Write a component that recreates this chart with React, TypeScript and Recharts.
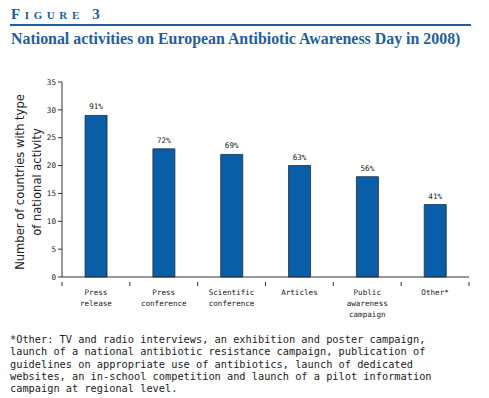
import React from "react"
import { Bar, BarChart, LabelList, XAxis, YAxis } from "recharts"

const categories = ["Press release", "Press conference", "Scientific conference", "Articles", "Public awareness campaign", "Other*"]
const tickLines = [["Press", "release"], ["Press", "conference"], ["Scientific", "conference"], ["Articles"], ["Public", "awareness", "campaign"], ["Other*"]]
const countries = [29, 23, 22, 20, 18, 13]
const shares = ["91%", "72%", "69%", "63%", "56%", "41%"]
const yTicks = [0, 5, 10, 15, 20, 25, 30, 35]

const footnote = [
  "*Other: TV and radio interviews, an exhibition and poster campaign,",
  "launch of a national antibiotic resistance campaign, publication of",
  "guidelines on appropriate use of antibiotics, launch of dedicated",
  "websites, an in-school competition and launch of a pilot information",
  "campaign at regional level.",
]

const data = categories.map((name, i) => ({ name, value: countries[i], share: shares[i] }))

const BLUE = "#1d5f9f"
const MONO = "'DejaVu Sans Mono', monospace"
const W = 489
const H = 330
const margin = { top: 82, right: 20, left: 32, bottom: 13 }
const plotW = W - margin.left - margin.right - 30
const band = plotW / categories.length

function CategoryTick(props: any) {
  const { x, y, index } = props
  const lines = tickLines[index] || []
  const left = x - band / 2
  return (
    <g>
      <line x1={left} x2={left} y1={y - 3} y2={y + 1} stroke="#333" strokeWidth={1} />
      {index === categories.length - 1 && (
        <line x1={x + band / 2} x2={x + band / 2} y1={y - 3} y2={y + 1} stroke="#333" strokeWidth={1} />
      )}
      <text x={x} y={y + 10} textAnchor="middle" fontSize={7.6} fontFamily={MONO} fill="#222">
        {lines.map((l, i) => (
          <tspan key={i} x={x} dy={i === 0 ? 0 : 11}>
            {l}
          </tspan>
        ))}
      </text>
    </g>
  )
}

function AxisTitle() {
  const font = { fontSize: 12.8, fontFamily: "'DejaVu Sans Condensed', sans-serif", fill: "#222" }
  return (
    <g>
      <text transform="translate(24,182) rotate(-90)" textAnchor="middle" {...font}>
        Number of countries with type
      </text>
      <text transform="translate(41,182) rotate(-90)" textAnchor="middle" {...font}>
        of national activity
      </text>
    </g>
  )
}

export default function App() {
  return (
    <div style={{ position: "absolute", left: 0, top: 0, width: W, height: 398, background: "#fff" }}>
      <div
        style={{
          position: "absolute",
          left: 11,
          top: 6,
          fontFamily: "'Liberation Serif', serif",
          fontVariant: "small-caps",
          fontWeight: "bold",
          fontSize: 15,
          letterSpacing: 4.6,
          color: BLUE,
        }}
      >
        Figure 3
      </div>
      <div style={{ position: "absolute", left: 10, top: 24, width: 461, height: 2, background: BLUE }} />
      <div
        style={{
          position: "absolute",
          left: 11,
          top: 30,
          fontFamily: "'Liberation Serif', serif",
          fontWeight: "bold",
          fontSize: 15.9,
          color: BLUE,
          whiteSpace: "nowrap",
        }}
      >
        National activities on European Antibiotic Awareness Day in 2008)
      </div>

      <div style={{ position: "absolute", left: 0, top: 0 }}>
        <BarChart width={W} height={H} data={data} margin={margin} barCategoryGap="34%">
          <XAxis
            dataKey="name"
            interval={0}
            height={40}
            tickLine={false}
            axisLine={{ stroke: "#333" }}
            tick={<CategoryTick />}
          />
          <YAxis
            domain={[0, 35]}
            ticks={yTicks}
            width={30}
            tickSize={4}
            tickLine={{ stroke: "#333" }}
            axisLine={{ stroke: "#333" }}
            tick={{ fontSize: 7.6, fontFamily: MONO, fill: "#222" }}
            label={{ content: () => <AxisTitle /> }}
          />
          <Bar dataKey="value" fill="#0a5ea8" stroke="#1b2c3c" strokeWidth={0.8} isAnimationActive={false}>
            <LabelList dataKey="share" position="top" offset={6} fontSize={7.6} fontFamily={MONO} fill="#222" />
          </Bar>
        </BarChart>
      </div>

      <div
        style={{
          position: "absolute",
          left: 10,
          top: 333,
          fontFamily: MONO,
          fontSize: 10.3,
          lineHeight: "12.3px",
          color: "#222",
          whiteSpace: "pre",
        }}
      >
        {footnote.join("\n")}
      </div>
    </div>
  )
}
